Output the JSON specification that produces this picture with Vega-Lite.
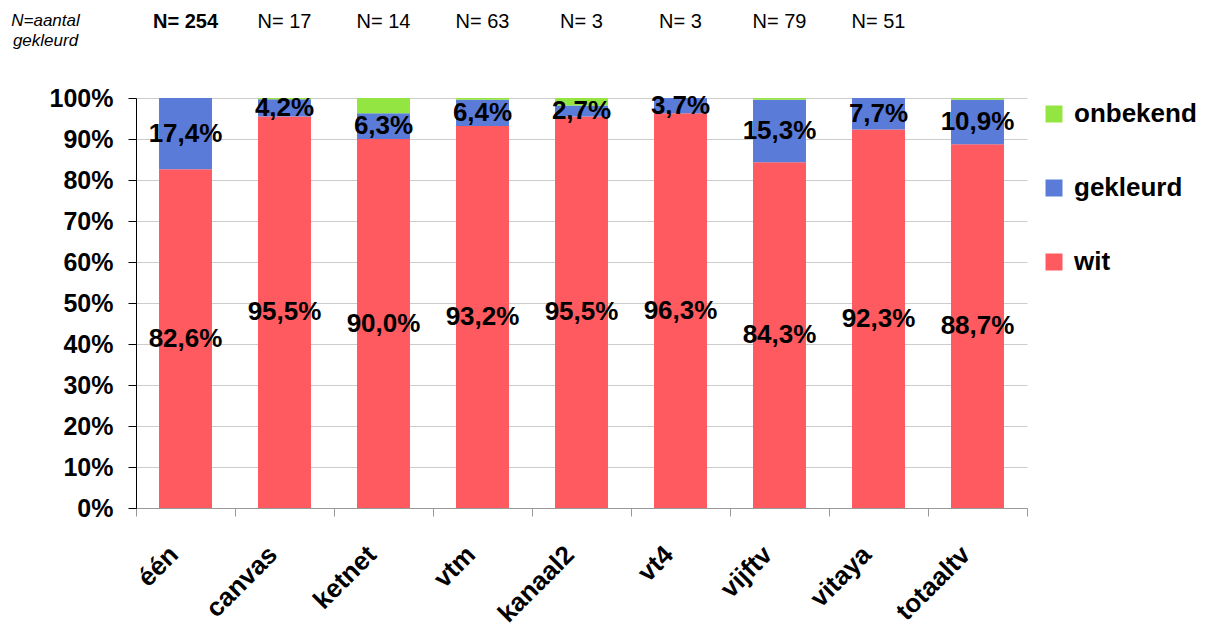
{
  "$schema": "https://vega.github.io/schema/vega-lite/v6.json",
  "width": 891,
  "height": 410,
  "autosize": {"type": "none"},
  "padding": {"left": 136, "top": 98, "right": 182, "bottom": 117},
  "background": "white",
  "config": {
    "locale": {"number": {"decimal": ",", "thousands": ".", "grouping": [3], "currency": ["€", ""]}},
    "view": {"stroke": null},
    "font": "Liberation Sans"
  },
  "datasets": {
    "aandeel": [
      {"zender": "één", "serie": "wit", "volgorde": 1, "aandeel": 0.826},
      {"zender": "één", "serie": "gekleurd", "volgorde": 2, "aandeel": 0.174},
      {"zender": "één", "serie": "onbekend", "volgorde": 3, "aandeel": 0.0},
      {"zender": "canvas", "serie": "wit", "volgorde": 1, "aandeel": 0.955},
      {"zender": "canvas", "serie": "gekleurd", "volgorde": 2, "aandeel": 0.042},
      {"zender": "canvas", "serie": "onbekend", "volgorde": 3, "aandeel": 0.003},
      {"zender": "ketnet", "serie": "wit", "volgorde": 1, "aandeel": 0.900},
      {"zender": "ketnet", "serie": "gekleurd", "volgorde": 2, "aandeel": 0.063},
      {"zender": "ketnet", "serie": "onbekend", "volgorde": 3, "aandeel": 0.037},
      {"zender": "vtm", "serie": "wit", "volgorde": 1, "aandeel": 0.932},
      {"zender": "vtm", "serie": "gekleurd", "volgorde": 2, "aandeel": 0.064},
      {"zender": "vtm", "serie": "onbekend", "volgorde": 3, "aandeel": 0.004},
      {"zender": "kanaal2", "serie": "wit", "volgorde": 1, "aandeel": 0.955},
      {"zender": "kanaal2", "serie": "gekleurd", "volgorde": 2, "aandeel": 0.027},
      {"zender": "kanaal2", "serie": "onbekend", "volgorde": 3, "aandeel": 0.018},
      {"zender": "vt4", "serie": "wit", "volgorde": 1, "aandeel": 0.963},
      {"zender": "vt4", "serie": "gekleurd", "volgorde": 2, "aandeel": 0.037},
      {"zender": "vt4", "serie": "onbekend", "volgorde": 3, "aandeel": 0.0},
      {"zender": "vijftv", "serie": "wit", "volgorde": 1, "aandeel": 0.843},
      {"zender": "vijftv", "serie": "gekleurd", "volgorde": 2, "aandeel": 0.153},
      {"zender": "vijftv", "serie": "onbekend", "volgorde": 3, "aandeel": 0.004},
      {"zender": "vitaya", "serie": "wit", "volgorde": 1, "aandeel": 0.923},
      {"zender": "vitaya", "serie": "gekleurd", "volgorde": 2, "aandeel": 0.077},
      {"zender": "vitaya", "serie": "onbekend", "volgorde": 3, "aandeel": 0.0},
      {"zender": "totaaltv", "serie": "wit", "volgorde": 1, "aandeel": 0.887},
      {"zender": "totaaltv", "serie": "gekleurd", "volgorde": 2, "aandeel": 0.109},
      {"zender": "totaaltv", "serie": "onbekend", "volgorde": 3, "aandeel": 0.004}
    ],
    "aantal": [
      {"zender": "één", "N": "N= 254"},
      {"zender": "canvas", "N": "N= 17"},
      {"zender": "ketnet", "N": "N= 14"},
      {"zender": "vtm", "N": "N= 63"},
      {"zender": "kanaal2", "N": "N= 3"},
      {"zender": "vt4", "N": "N= 3"},
      {"zender": "vijftv", "N": "N= 79"},
      {"zender": "vitaya", "N": "N= 51"}
    ]
  },
  "resolve": {"axis": {"x": "independent", "y": "independent"}},
  "layer": [
    {
      "data": {"name": "aandeel"},
      "transform": [
        {"stack": "aandeel", "groupby": ["zender"], "sort": [{"field": "volgorde"}], "as": ["y0", "y1"]}
      ],
      "mark": {"type": "bar", "width": {"band": 0.535}},
      "encoding": {
        "x": {
          "field": "zender", "type": "nominal",
          "sort": ["één", "canvas", "ketnet", "vtm", "kanaal2", "vt4", "vijftv", "vitaya", "totaaltv"],
          "scale": {"paddingInner": 0, "paddingOuter": 0},
          "axis": {
            "title": null, "orient": "bottom", "labelAngle": -45, "labelFontSize": 26,
            "labelFontWeight": "bold", "labelColor": "black", "labelPadding": 25, "labelOffset": -21,
            "tickBand": "extent", "tickSize": 8, "tickColor": "#999999", "domainColor": "#999999",
            "grid": false
          }
        },
        "y": {
          "field": "y0", "type": "quantitative",
          "scale": {"domain": [0, 1]},
          "axis": {
            "title": null, "orient": "left", "format": ".0%",
            "values": [0, 0.1, 0.2, 0.3, 0.4, 0.5, 0.6, 0.7, 0.8, 0.9, 1],
            "labelFontSize": 25, "labelFontWeight": "bold", "labelColor": "black",
            "tickColor": "black", "domainColor": "black", "tickSize": 8, "labelPadding": 15,
            "grid": true, "gridColor": "#cccccc"
          }
        },
        "y2": {"field": "y1"},
        "color": {
          "field": "serie", "type": "nominal",
          "scale": {"domain": ["onbekend", "gekleurd", "wit"], "range": ["#93E641", "#5B7BD9", "#FF5A5F"]},
          "legend": {
            "title": null, "orient": "none", "legendX": 905, "legendY": 3, "symbolType": "square",
            "symbolSize": 289, "symbolStrokeWidth": 0, "labelFontSize": 26, "labelFontWeight": "bold",
            "labelColor": "black", "rowPadding": 48, "labelOffset": 7, "padding": 0
          }
        }
      }
    },
    {
      "data": {"name": "aandeel"},
      "transform": [
        {"stack": "aandeel", "groupby": ["zender"], "sort": [{"field": "volgorde"}], "as": ["y0", "y1"]},
        {"filter": "datum.serie !== 'onbekend'"},
        {"calculate": "(datum.y0 + datum.y1) / 2", "as": "midden"}
      ],
      "mark": {"type": "text", "fontSize": 26, "fontWeight": "bold", "color": "black", "baseline": "middle"},
      "encoding": {
        "x": {"field": "zender", "type": "nominal", "sort": ["één", "canvas", "ketnet", "vtm", "kanaal2", "vt4", "vijftv", "vitaya", "totaaltv"], "axis": null},
        "y": {"field": "midden", "type": "quantitative", "axis": null},
        "text": {"field": "aandeel", "type": "quantitative", "format": ".1%"}
      }
    },
    {
      "data": {"name": "aantal"},
      "transform": [{"filter": "datum.zender === 'één'"}],
      "mark": {"type": "text", "fontSize": 20, "fontWeight": "bold", "color": "black", "baseline": "middle"},
      "encoding": {
        "x": {
          "field": "zender", "type": "nominal",
          "sort": ["één", "canvas", "ketnet", "vtm", "kanaal2", "vt4", "vijftv", "vitaya", "totaaltv"],
          "axis": {
            "orient": "top", "labels": false, "ticks": false, "domain": false, "grid": false,
            "title": ["N=aantal", "gekleurd"], "titleFontStyle": "italic", "titleFontWeight": "normal",
            "titleFontSize": 17, "titleColor": "black", "titleX": -91, "titleY": -86, "titleAlign": "center",
            "titleBaseline": "top", "titleLineHeight": 20, "titleAngle": 0
          }
        },
        "y": {"datum": 1.185, "type": "quantitative", "axis": null},
        "text": {"field": "N"}
      }
    },
    {
      "data": {"name": "aantal"},
      "transform": [{"filter": "datum.zender !== 'één'"}],
      "mark": {"type": "text", "fontSize": 20, "fontWeight": "normal", "color": "black", "baseline": "middle"},
      "encoding": {
        "x": {"field": "zender", "type": "nominal", "sort": ["één", "canvas", "ketnet", "vtm", "kanaal2", "vt4", "vijftv", "vitaya", "totaaltv"], "axis": null},
        "y": {"datum": 1.185, "type": "quantitative", "axis": null},
        "text": {"field": "N"}
      }
    }
  ]
}
